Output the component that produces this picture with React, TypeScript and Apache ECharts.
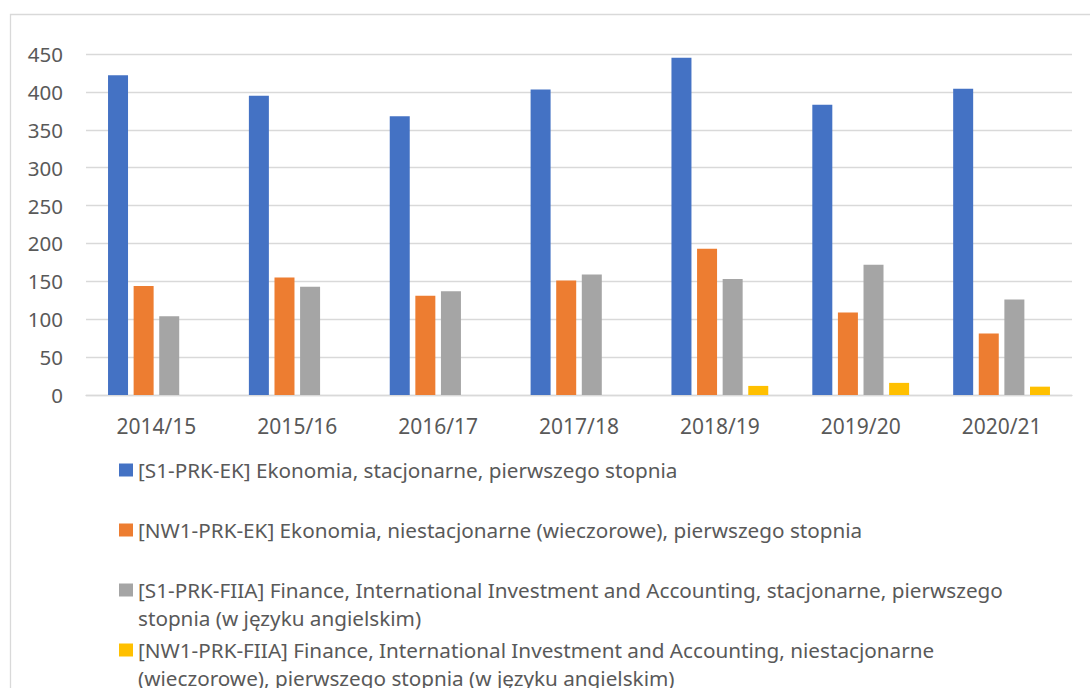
import React, { useEffect, useRef } from "react";
import * as echarts from "echarts";

const categories = ["2014/15", "2015/16", "2016/17", "2017/18", "2018/19", "2019/20", "2020/21"];
const seriesNames = [
  "[S1-PRK-EK] Ekonomia, stacjonarne, pierwszego stopnia",
  "[NW1-PRK-EK] Ekonomia, niestacjonarne (wieczorowe), pierwszego stopnia",
  "[S1-PRK-FIIA] Finance, International Investment and Accounting, stacjonarne, pierwszego\nstopnia (w języku angielskim)",
  "[NW1-PRK-FIIA] Finance, International Investment and Accounting, niestacjonarne\n(wieczorowe), pierwszego stopnia (w języku angielskim)",
];
const s1Ek = [422, 395, 368, 403, 445, 383, 404];
const nw1Ek = [144, 155, 131, 151, 193, 109, 81];
const s1Fiia = [104, 143, 137, 159, 153, 172, 126];
const nw1Fiia = [null, null, null, null, 12, 16, 11];
const colors = ["#4472C4", "#ED7D31", "#A5A5A5", "#FFC000"];
const yTicks = { min: 0, max: 450, interval: 50 };

const FONT = "'Noto Sans', sans-serif";
const TEXT = "#595959";

export default function App() {
  const ref = useRef<HTMLDivElement>(null);
  useEffect(() => {
    document.body.style.margin = "0";
    const chart = echarts.init(ref.current!, undefined, { renderer: "svg" });
    const allData = [s1Ek, nw1Ek, s1Fiia, nw1Fiia];
    const legendTops = [456, 516, 548, 608];
    const multi = [false, false, true, true];
    chart.setOption({
      animation: false,
      backgroundColor: "#ffffff",
      textStyle: { fontFamily: FONT },
      graphic: [
        {
          type: "rect",
          shape: { x: 10.5, y: 14.5, width: 1100, height: 700 },
          style: { fill: "none", stroke: "#D9D9D9", lineWidth: 1.3 },
          silent: true,
        },
      ],
      grid: { left: 86, right: 18, top: 54, bottom: 293, containLabel: false },
      legend: seriesNames.map((name, i) => ({
        data: [name],
        left: 119,
        top: legendTops[i],
        padding: 0,
        icon: "rect",
        itemWidth: 14,
        itemHeight: 13,
        selectedMode: false,
        formatter: (n: string) => (multi[i] ? "\n" + n : n),
        textStyle: {
          fontFamily: FONT,
          fontSize: 20.7,
          color: TEXT,
          lineHeight: 28,
        },
      })),
      xAxis: {
        type: "category",
        data: categories,
        axisTick: { show: false },
        axisLine: { lineStyle: { color: "#D9D9D9", width: 1.3 } },
        axisLabel: { color: TEXT, fontSize: 21, fontFamily: FONT, margin: 20 },
      },
      yAxis: {
        type: "value",
        min: yTicks.min,
        max: yTicks.max,
        interval: yTicks.interval,
        axisLine: { show: false },
        axisTick: { show: false },
        splitLine: { lineStyle: { color: "#D9D9D9", width: 1.3 } },
        axisLabel: { color: TEXT, fontSize: 20.5, fontFamily: FONT, margin: 23 },
      },
      series: seriesNames.map((name, i) => ({
        type: "bar",
        name,
        data: allData[i],
        barWidth: 20,
        barGap: "28%",
        itemStyle: { color: colors[i] },
      })),
    });
    return () => chart.dispose();
  }, []);
  return <div ref={ref} style={{ width: 1090, height: 688 }} />;
}
